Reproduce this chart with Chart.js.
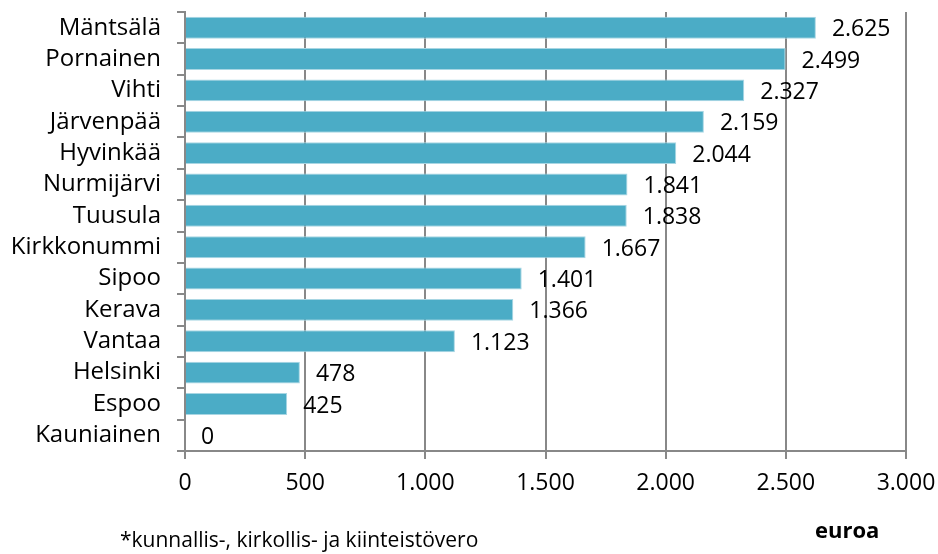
<!DOCTYPE html>
<html>
<head>
<meta charset="utf-8">
<script src="https://cdn.jsdelivr.net/npm/chart.js@4"></script>
<style>
  html, body { margin: 0; padding: 0; background: #fff; }
  #wrap { position: relative; width: 938px; height: 554px; }
</style>
</head>
<body>
<div id="wrap"><canvas id="taxChart" width="938" height="554"></canvas></div>
<script>
// Municipalities and the tax amount (euroa)
const municipalities = ["Mäntsälä", "Pornainen", "Vihti", "Järvenpää", "Hyvinkää", "Nurmijärvi",
  "Tuusula", "Kirkkonummi", "Sipoo", "Kerava", "Vantaa", "Helsinki", "Espoo", "Kauniainen"];
const taxValues = [2625, 2499, 2327, 2159, 2044, 1841, 1838, 1667, 1401, 1366, 1123, 478, 425, 0];
const xTicks = [0, 500, 1000, 1500, 2000, 2500, 3000];
const footnote = "*kunnallis-, kirkollis- ja kiinteistövero";
const unitLabel = "euroa";

const FONT = "'Open Sans', sans-serif";
const GRID = "#888888";

// thousands separator as a dot, e.g. 2.625
function fmt(v) {
  return String(v).replace(/\B(?=(\d{3})+(?!\d))/g, ".");
}

// draws the value next to each bar, plus footnote and unit text
const valueLabels = {
  id: "valueLabels",
  afterDatasetsDraw(chart) {
    const ctx = chart.ctx;
    const meta = chart.getDatasetMeta(0);
    ctx.save();
    ctx.fillStyle = "#000";
    ctx.font = "23px " + FONT;
    ctx.textAlign = "left";
    ctx.textBaseline = "middle";
    meta.data.forEach((bar, i) => {
      ctx.fillText(fmt(taxValues[i]), bar.x + 16, bar.y + 2);
    });
    ctx.font = "21px " + FONT;
    ctx.fillText(footnote, 120, 541);
    ctx.font = "bold 22px " + FONT;
    ctx.fillText(unitLabel, 815, 532);
    ctx.restore();
  }
};

new Chart(document.getElementById("taxChart"), {
  type: "bar",
  data: {
    labels: municipalities,
    datasets: [{
      data: taxValues,
      backgroundColor: "#4BACC6",
      borderColor: "#a8d6e3",
      borderWidth: 1,
      barPercentage: 0.7,
      categoryPercentage: 1.0
    }]
  },
  options: {
    indexAxis: "y",
    responsive: false,
    animation: false,
    layout: { padding: { top: 12, right: 32, left: 0, bottom: 0 } },
    plugins: {
      legend: { display: false },
      tooltip: { enabled: false }
    },
    scales: {
      x: {
        min: 0,
        max: 3000,
        afterBuildTicks: (scale) => { scale.ticks = xTicks.map((v) => ({ value: v })); },
        afterFit: (scale) => {
          scale.height = 103;
          scale.paddingLeft = 0;
          scale.paddingRight = 0;
        },
        grid: { color: GRID, lineWidth: 2, tickLength: 8, drawOnChartArea: true },
        border: { color: GRID, width: 2 },
        ticks: {
          color: "#000",
          font: { family: FONT, size: 23 },
          padding: 11,
          maxRotation: 0,
          autoSkip: false,
          callback: (v) => fmt(v)
        }
      },
      y: {
        afterFit: (scale) => {
          scale.width = 185;
          scale.paddingTop = 0;
          scale.paddingBottom = 0;
        },
        grid: { color: GRID, lineWidth: 2, tickLength: 8, drawOnChartArea: false, offset: true },
        border: { color: GRID, width: 2 },
        ticks: {
          color: "#000",
          font: { family: FONT, size: 24 },
          padding: 16,
          autoSkip: false
        }
      }
    }
  },
  plugins: [valueLabels]
});
</script>
</body>
</html>
